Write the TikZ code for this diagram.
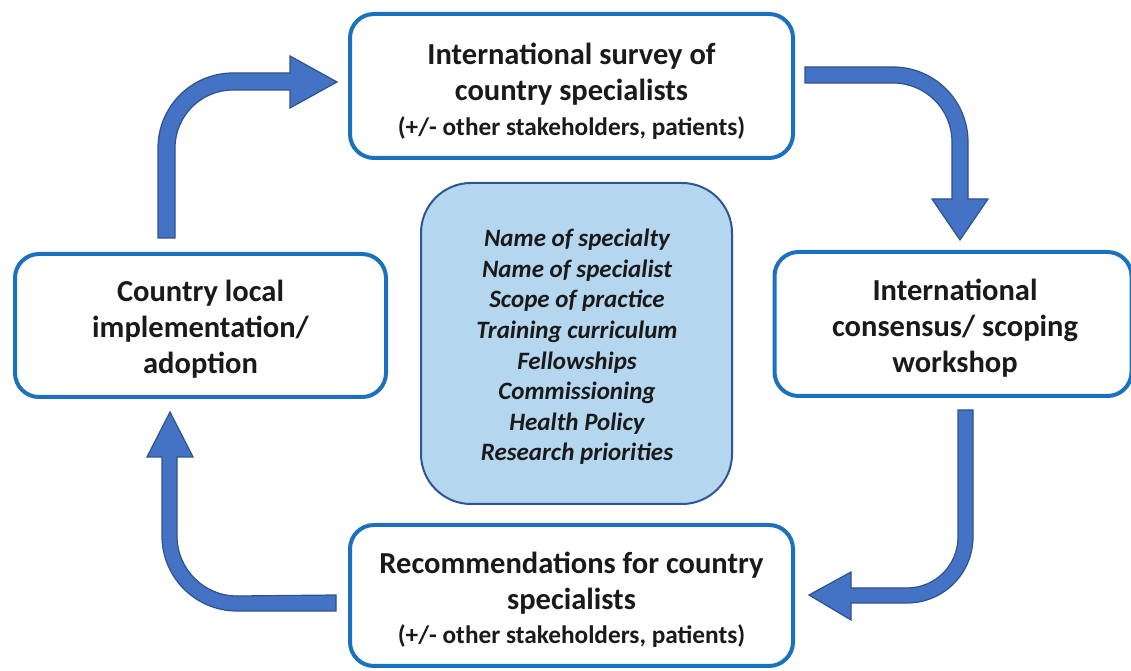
\documentclass[tikz,border=0pt]{standalone}
\usepackage{fontspec}
\setmainfont{Carlito}
\definecolor{boxblue}{RGB}{28,113,190}
\definecolor{arrowfill}{RGB}{68,114,196}
\definecolor{arrowedge}{RGB}{47,82,143}
\definecolor{centerfill}{RGB}{180,214,238}
\definecolor{centeredge}{RGB}{47,85,151}
\definecolor{txt}{RGB}{26,26,26}
\begin{document}
\begin{tikzpicture}[x=1pt,y=1pt,
  stagebox/.style={draw=boxblue, line width=4pt, rounded corners=24pt, fill=white, inner sep=0pt},
  hubbox/.style={draw=centeredge, line width=2pt, rounded corners=50pt, fill=centerfill, inner sep=0pt},
  bigtext/.style={align=center, text=txt, font=\fontsize{30.5}{36}\selectfont\bfseries, inner sep=0pt},
  notetext/.style={align=center, text=txt, font=\fontsize{25.3}{30}\selectfont\bfseries, inner sep=0pt},
  hubtext/.style={align=center, text=txt, font=\fontsize{25}{30.6}\selectfont\bfseries\itshape, inner sep=0pt},
  fatarrow/.style={fill=arrowfill, draw=arrowedge, line width=1.2pt, line join=miter}
]
\useasboundingbox (0,0) rectangle (1131,671);

\node[stagebox, minimum width=443pt, minimum height=144pt] (survey) at (571.5,585) {};
\node[bigtext] (surveytext) at (571.5,597) {International survey of\\country specialists};
\node[notetext] (surveynote) at (571.5,543) {(+/- other stakeholders, patients)};

\node[stagebox, minimum width=357pt, minimum height=144pt] (workshop) at (953,347) {};
\node[bigtext] (workshoptext) at (955,343) {International\\consensus/ scoping\\workshop};

\node[stagebox, minimum width=443pt, minimum height=141pt] (recs) at (571.5,75.5) {};
\node[bigtext] (recstext) at (571.5,88) {Recommendations for country\\specialists};
\node[notetext] (recsnote) at (571.5,35) {(+/- other stakeholders, patients)};

\node[stagebox, minimum width=371pt, minimum height=143pt] (local) at (200.5,345.5) {};
\node[bigtext] (localtext) at (200.5,342) {Country local\\implementation/\\adoption};

\node[hubbox, minimum width=311pt, minimum height=321pt] (hub) at (576.5,327.5) {};
\node[hubtext] (hubtext) at (577,324)
  {Name of specialty\\Name of specialist\\Scope of practice\\Training curriculum\\Fellowships\\Commissioning\\Health Policy\\Research priorities};

% arrow: local -> survey
\draw[fatarrow] (158,433) -- (158,523) arc[start angle=180,end angle=90,radius=75]
  -- (290,598) -- (290,615) -- (337,589) -- (290,563) -- (290,581) -- (233,581)
  arc[start angle=90,end angle=180,radius=58] -- (175,433) -- cycle;
% arrow: survey -> workshop
\draw[fatarrow] (805,604) -- (893,604) arc[start angle=90,end angle=0,radius=75]
  -- (968,472) -- (988,472) -- (960,431) -- (932,472) -- (952,472) -- (952,529)
  arc[start angle=0,end angle=90,radius=59] -- (805,588) -- cycle;
% arrow: workshop -> recs
\draw[fatarrow] (973,261) -- (973,134) arc[start angle=0,end angle=-90,radius=66]
  -- (851,68) -- (851,51) -- (809,76) -- (851,99) -- (851,83) -- (907,83)
  arc[start angle=-90,end angle=0,radius=51] -- (958,261) -- cycle;
% arrow: recs -> local
\draw[fatarrow] (336,60) -- (237,60) arc[start angle=-90,end angle=-180,radius=75]
  -- (162,214) -- (147,214) -- (170,259) -- (193,214) -- (177,214) -- (177,135)
  arc[start angle=-180,end angle=-90,radius=60] -- (336,76) -- cycle;
\end{tikzpicture}
\end{document}
